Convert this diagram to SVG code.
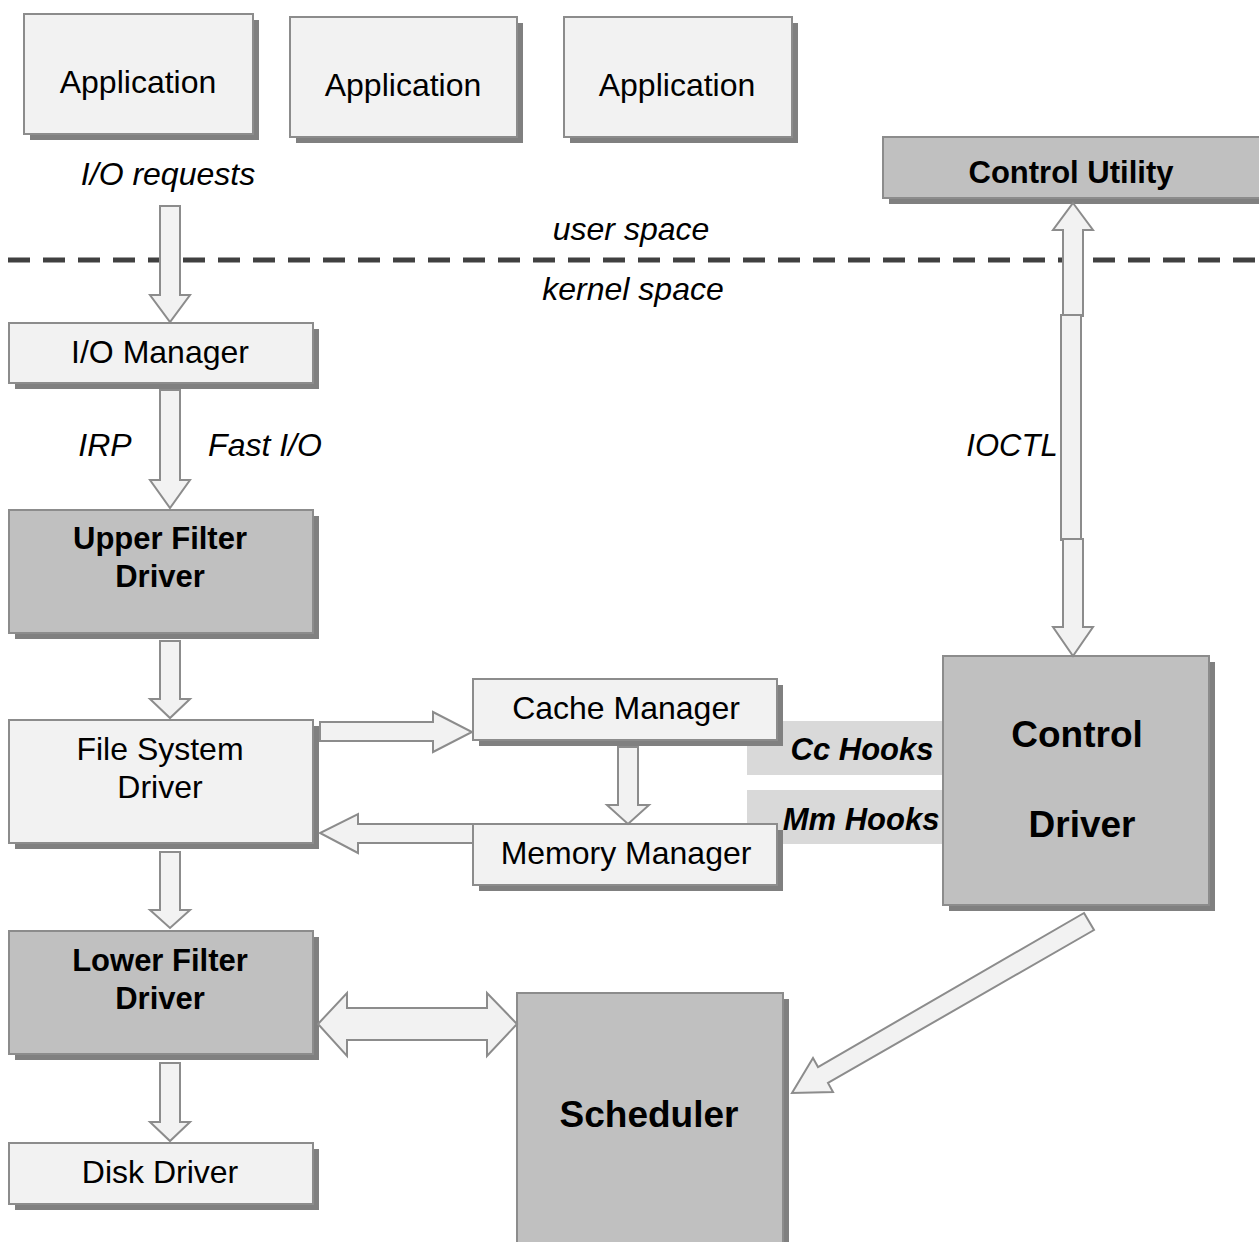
<svg xmlns="http://www.w3.org/2000/svg" width="1259" height="1242" viewBox="0 0 1259 1242">
<style>
.sh{fill:#808080}
.lt{fill:#f2f2f2;stroke:#8c8c8c;stroke-width:2}
.dk{fill:#c0c0c0;stroke:#8c8c8c;stroke-width:2}
.ar{fill:#f2f2f2;stroke:#8c8c8c;stroke-width:2;stroke-linejoin:miter}
.band{fill:#d9d9d9}
text{font-family:"Liberation Sans",Arial,sans-serif;fill:#000;text-anchor:middle}
.n{font-size:32px}
.i{font-size:32px;font-style:italic}
.b{font-size:31px;font-weight:bold}
.bl{font-size:37px;font-weight:bold}
.bi{font-size:31px;font-weight:bold;font-style:italic}
</style>
<rect width="1259" height="1242" fill="#fff"/>

<g id="divider">
<line x1="8" y1="260" x2="1259" y2="260" stroke="#404040" stroke-width="5" stroke-dasharray="22,13"/>
<text class="i" x="631" y="240">user space</text>
<text class="i" x="633" y="300">kernel space</text>
</g>

<g id="hooks">
<rect class="band" x="747" y="721" width="196" height="54"/>
<rect class="band" x="747" y="790" width="196" height="54"/>
<text class="bi" x="862" y="760">Cc Hooks</text>
</g>

<g id="app1"><rect class="sh" x="30" y="20" width="229" height="120"/><rect class="lt" x="24" y="14" width="229" height="120"/><text class="n" x="138" y="93">Application</text></g>
<g id="app2"><rect class="sh" x="296" y="23" width="227" height="120"/><rect class="lt" x="290" y="17" width="227" height="120"/><text class="n" x="403" y="96">Application</text></g>
<g id="app3"><rect class="sh" x="570" y="23" width="228" height="120"/><rect class="lt" x="564" y="17" width="228" height="120"/><text class="n" x="677" y="96">Application</text></g>

<g id="control-utility"><rect class="sh" x="889" y="143" width="400" height="61"/><rect class="dk" x="883" y="137" width="400" height="61"/><text class="b" x="1071" y="183">Control Utility</text></g>

<g id="io-manager"><rect class="sh" x="15" y="329" width="304" height="60"/><rect class="lt" x="9" y="323" width="304" height="60"/><text class="n" x="160" y="363">I/O Manager</text></g>
<g id="upper-filter"><rect class="sh" x="15" y="516" width="304" height="123"/><rect class="dk" x="9" y="510" width="304" height="123"/><text class="b" x="160" y="549">Upper Filter</text><text class="b" x="160" y="587">Driver</text></g>
<g id="fs-driver"><rect class="sh" x="15" y="726" width="304" height="123"/><rect class="lt" x="9" y="720" width="304" height="123"/><text class="n" x="160" y="760">File System</text><text class="n" x="160" y="798">Driver</text></g>
<g id="lower-filter"><rect class="sh" x="15" y="937" width="304" height="123"/><rect class="dk" x="9" y="931" width="304" height="123"/><text class="b" x="160" y="971">Lower Filter</text><text class="b" x="160" y="1009">Driver</text></g>
<g id="disk-driver"><rect class="sh" x="15" y="1149" width="304" height="61"/><rect class="lt" x="9" y="1143" width="304" height="61"/><text class="n" x="160" y="1183">Disk Driver</text></g>

<g id="cache-manager"><rect class="sh" x="479" y="685" width="304" height="61"/><rect class="lt" x="473" y="679" width="304" height="61"/><text class="n" x="626" y="719">Cache Manager</text></g>
<g id="memory-manager"><rect class="sh" x="479" y="830" width="304" height="61"/><rect class="lt" x="473" y="824" width="304" height="61"/><text class="n" x="626" y="864">Memory Manager</text></g>

<g id="mm-hooks-label"><text class="bi" x="861" y="830">Mm Hooks</text></g>

<g id="control-driver"><rect class="sh" x="949" y="662" width="266" height="249"/><rect class="dk" x="943" y="656" width="266" height="249"/><text class="bl" x="1077" y="747">Control</text><text class="bl" x="1082" y="837">Driver</text></g>

<g id="scheduler"><rect class="sh" x="523" y="999" width="266" height="260"/><rect class="dk" x="517" y="993" width="266" height="260"/><text class="bl" x="649" y="1127">Scheduler</text></g>

<g id="connectors">
<path class="ar" d="M160,206 H180 V295 H190 L170,322 L150,295 H160 Z"/>
<text class="i" x="168" y="185">I/O requests</text>
<path class="ar" d="M160,390 H180 V480 H190 L170,508 L150,480 H160 Z"/>
<text class="i" x="105" y="456">IRP</text>
<text class="i" x="265" y="456">Fast I/O</text>
<path class="ar" d="M160,641 H180 V699 H190 L170,718 L150,699 H160 Z"/>
<path class="ar" d="M160,852 H180 V910 H190 L170,928 L150,910 H160 Z"/>
<path class="ar" d="M160,1063 H180 V1122 H190 L170,1141 L150,1122 H160 Z"/>
<path class="ar" d="M320,722 H433 V712 L472,732 L433,752 V741 H320 Z"/>
<path class="ar" d="M473,824 H358 V814 L320,833 L358,853 V843 H473 Z"/>
<path class="ar" d="M618,747 H638 V805 H649 L628,824 L607,805 H618 Z"/>
<path class="ar" d="M318,1024 L347,993 V1008 H487 V993 L517,1024 L487,1056 V1040 H347 V1056 Z"/>
<path class="ar" d="M1073,203 L1093,230 H1083 V316 H1063 V230 H1053 Z"/>
<rect class="ar" x="1061" y="315" width="20" height="225"/>
<path class="ar" d="M1063,539 H1083 V627 H1093 L1073,656 L1053,627 H1063 Z"/>
<text class="i" x="1012" y="456" style="font-size:31px">IOCTL</text>
<path class="ar" d="M1084,913 L1094,930 L828,1083 L833,1092 L792,1093 L813,1058 L818,1067 Z"/>
</g>
</svg>
